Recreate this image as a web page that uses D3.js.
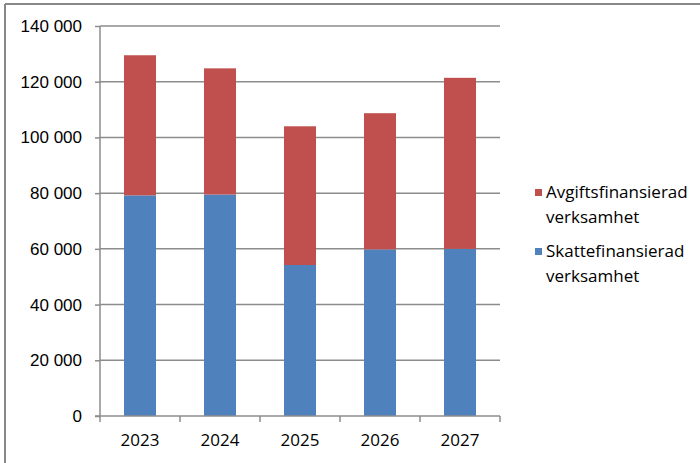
<!DOCTYPE html>
<html>
<head>
<meta charset="utf-8">
<script src="https://cdn.jsdelivr.net/npm/d3@7"></script>
<style>
  body { margin: 0; background: #fff; }
  svg { display: block; font-family: "Open Sans", Lato, sans-serif; }
</style>
</head>
<body>
<svg id="chart" width="700" height="463"></svg>
<script>
var years = ["2023", "2024", "2025", "2026", "2027"];
var skatte = [79200, 79500, 54200, 59800, 60000];
var avgift = [50300, 45300, 49800, 48900, 61400];
var yTicks = [0, 20000, 40000, 60000, 80000, 100000, 120000, 140000];
var seriesNames = ["Avgiftsfinansierad verksamhet", "Skattefinansierad verksamhet"];

var svg = d3.select("#chart");
var fontSize = 17;

// outer frame (top and left only visible)
svg.append("line").attr("x1", 5).attr("x2", 700).attr("y1", 4).attr("y2", 4)
    .attr("stroke", "#888").attr("stroke-width", 2);
svg.append("line").attr("x1", 5).attr("x2", 5).attr("y1", 4).attr("y2", 463)
    .attr("stroke", "#888").attr("stroke-width", 2);

var x = d3.scaleBand().domain(years).range([100, 500]).paddingInner(0.6).paddingOuter(0.3);
var y = d3.scaleLinear().domain([0, 140000]).range([416, 26]);

var fmt = function (d) { return d === 0 ? "0" : d3.format(",")(d).replace(/,/g, " "); };

// gridlines
svg.append("g").selectAll("line").data(yTicks.filter(function (d) { return d > 0; }))
    .enter().append("line")
    .attr("x1", 100).attr("x2", 500)
    .attr("y1", function (d) { return y(d); }).attr("y2", function (d) { return y(d); })
    .attr("stroke", "#8c8c8c").attr("stroke-width", 1.5);

// stacked bars
var rows = years.map(function (yr, i) { return { year: yr, skatte: skatte[i], avgift: avgift[i] }; });
var stack = d3.stack().keys(["skatte", "avgift"])(rows);
var colors = { skatte: "#4f81bd", avgift: "#c0504d" };

svg.append("g").selectAll("g").data(stack).enter().append("g")
    .attr("fill", function (s) { return colors[s.key]; })
    .selectAll("rect").data(function (s) { return s; }).enter().append("rect")
    .attr("x", function (d) { return x(d.data.year); })
    .attr("width", x.bandwidth())
    .attr("y", function (d) { return y(d[1]); })
    .attr("height", function (d) { return y(d[0]) - y(d[1]); });

// y axis
var yAxis = d3.axisLeft(y).tickValues(yTicks).tickFormat(fmt).tickSize(5).tickPadding(13);
var gy = svg.append("g").attr("transform", "translate(100,0)").call(yAxis);
gy.select(".domain").attr("stroke", "#8c8c8c").attr("stroke-width", 1.5).attr("d", "M0,26V416");
gy.selectAll(".tick line").attr("stroke", "#8c8c8c").attr("stroke-width", 1.5);
gy.selectAll("text").attr("font-size", fontSize).attr("fill", "#000");

// x axis
var xEdge = d3.scaleLinear().domain([0, years.length]).range([100, 500]);
var gx = svg.append("g").attr("transform", "translate(0,416)");
gx.append("line").attr("x1", 95).attr("x2", 500).attr("stroke", "#8c8c8c").attr("stroke-width", 1.5);
gx.selectAll(".xt").data(d3.range(years.length + 1)).enter().append("line")
    .attr("x1", function (d) { return xEdge(d); }).attr("x2", function (d) { return xEdge(d); })
    .attr("y1", 0).attr("y2", 6).attr("stroke", "#8c8c8c").attr("stroke-width", 1.5);
gx.selectAll("text").data(years).enter().append("text")
    .attr("x", function (d) { return x(d) + x.bandwidth() / 2; })
    .attr("y", 30).attr("text-anchor", "middle").attr("font-size", fontSize).attr("fill", "#000")
    .text(function (d) { return d; });

// legend
var legend = [
  { name: seriesNames[0], color: colors.avgift, y: 198 },
  { name: seriesNames[1], color: colors.skatte, y: 257 }
];
var lg = svg.append("g").selectAll("g").data(legend).enter().append("g");
lg.append("rect").attr("x", 535).attr("y", function (d) { return d.y - 9; })
    .attr("width", 7).attr("height", 7).attr("fill", function (d) { return d.color; });
lg.append("text").attr("x", 546).attr("y", function (d) { return d.y; })
    .attr("font-size", fontSize).attr("fill", "#000")
    .selectAll("tspan").data(function (d) { return d.name.split(" "); }).enter().append("tspan")
    .attr("x", 546).attr("dy", function (d, i) { return i === 0 ? 0 : 25; })
    .text(function (d) { return d; });
</script>
</body>
</html>
